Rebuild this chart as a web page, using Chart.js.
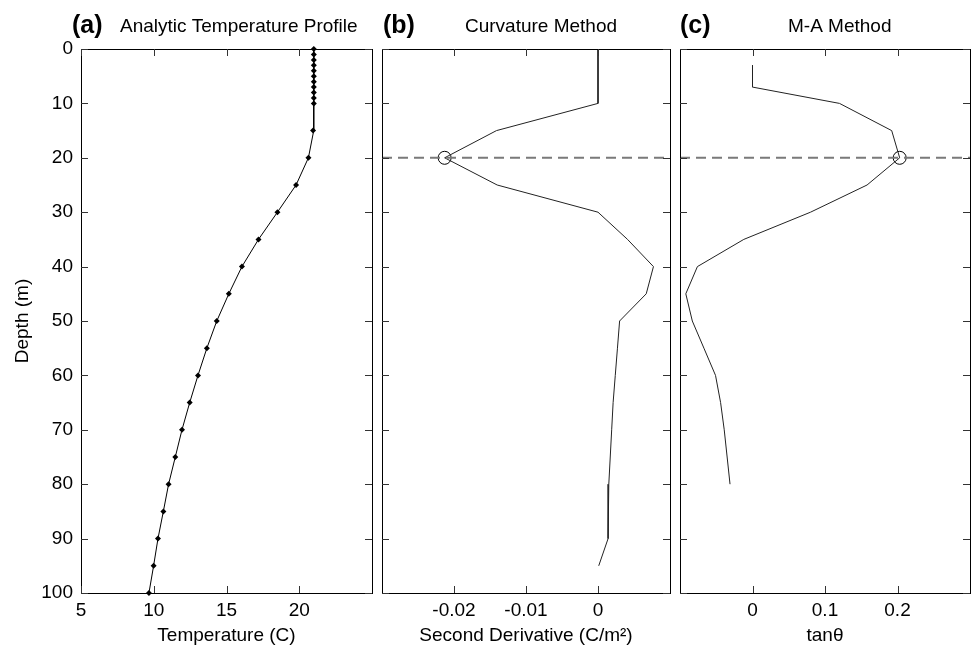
<!DOCTYPE html>
<html>
<head>
<meta charset="utf-8">
<script src="https://cdn.jsdelivr.net/npm/chart.js@4"></script>
<style>
  body { margin: 0; background: #fff; overflow: hidden; }
  #js--wrap { position: relative; width: 971px; height: 651px; }
  #js--wrap canvas { position: absolute; left: 0; top: 0; }
</style>
</head>
<body>
<div id="js--wrap">
  <canvas id="js--chart-a" width="971" height="651"></canvas>
  <canvas id="js--chart-b" width="971" height="651"></canvas>
  <canvas id="js--chart-c" width="971" height="651"></canvas>
</div>
<script>
// depth axis shared by all three panels
const depthTicks = [0, 10, 20, 30, 40, 50, 60, 70, 80, 90, 100];
const mixedLayerDepth = 20;

// (a) temperature profile
const profileDepths = [0, 1, 2, 3, 4, 5, 6, 7, 8, 9, 10, 15, 20, 25, 30, 35, 40, 45, 50,
    55, 60, 65, 70, 75, 80, 85, 90, 95, 100];
const profileTemps = [21, 21, 21, 21, 21, 21, 21, 21, 21, 21, 21, 20.95, 20.63, 19.78, 18.5,
    17.2, 16.06, 15.16, 14.33, 13.65, 13.04, 12.47, 11.94, 11.48, 11.02, 10.66, 10.29, 9.99, 9.67];
const tempTicks = [5, 10, 15, 20];

// (b) second derivative
const curvDepths = [0, 5, 10, 15, 20, 25, 30, 35, 40, 45, 50, 55, 60, 65, 70, 75, 80, 85, 90, 95];
const curvValues = [0, 0, 0, -0.0141, -0.0213, -0.014, 0, 0.0041, 0.0077, 0.0067, 0.003,
    0.0027, 0.0024, 0.0021, 0.0019, 0.0017, 0.0015, 0.0014, 0.0014, 0.0001];
const curvTicks = [-0.02, -0.01, 0];

// (c) M-A method
const maDepths = [3, 7, 10, 15, 20, 25, 30, 35, 40, 45, 50, 55, 60, 65, 70, 75, 80];
const maValues = [0, 0, 0.12, 0.192, 0.203, 0.158, 0.08, -0.012, -0.076, -0.092, -0.083,
    -0.067, -0.051, -0.044, -0.039, -0.035, -0.031];
const maTicks = [0, 0.1, 0.2];

const fontFamily = '"Liberation Sans", Arial, Helvetica, sans-serif';
Chart.defaults.font.family = fontFamily;
Chart.defaults.font.size = 19;
Chart.defaults.color = "#000";

const toPoints = function(xs, ys) {
    return ys.map(function(y, i) {
        return { x: xs[i], y: y };
    });
};

// box round the plot area with MATLAB style inward ticks
const framePlugin = {
    id: "frame",
    afterDatasetsDraw(chart) {
        const ctx = chart.ctx;
        const a = chart.chartArea;
        const xs = chart.scales.x;
        const ys = chart.scales.y;
        ctx.save();
        ctx.strokeStyle = "#000";
        ctx.lineWidth = 1;
        ctx.strokeRect(a.left + 0.5, a.top + 0.5, a.right - a.left, a.bottom - a.top);
        ctx.strokeStyle = "#333";
        ctx.beginPath();
        xs.ticks.forEach(function(t) {
            const px = Math.round(xs.getPixelForValue(t.value)) + 0.5;
            ctx.moveTo(px, a.top);
            ctx.lineTo(px, a.top + 7);
            ctx.moveTo(px, a.bottom);
            ctx.lineTo(px, a.bottom - 7);
        });
        ys.ticks.forEach(function(t) {
            const py = Math.round(ys.getPixelForValue(t.value)) + 0.5;
            ctx.moveTo(a.left, py);
            ctx.lineTo(a.left + 7, py);
            ctx.moveTo(a.right, py);
            ctx.lineTo(a.right - 7, py);
        });
        ctx.stroke();
        ctx.restore();
    }
};

const titlePlugin = {
    id: "panelTitle",
    afterDraw(chart, args, opts) {
        const ctx = chart.ctx;
        ctx.save();
        ctx.fillStyle = "#000";
        ctx.textAlign = "left";
        ctx.textBaseline = "alphabetic";
        ctx.font = "bold 25px " + fontFamily;
        ctx.fillText(opts.tag, opts.tagX, 33);
        ctx.font = "19px " + fontFamily;
        ctx.fillText(opts.text, opts.textX, 32);
        ctx.restore();
    }
};

const depthAxis = function(showLabels) {
    const axis = {
        type: "linear",
        reverse: true,
        min: 0,
        max: 100,
        display: showLabels,
        afterBuildTicks: function(scale) {
            scale.ticks = depthTicks.map(function(v) { return { value: v }; });
        },
        grid: { display: false, drawTicks: false },
        border: { display: false },
        ticks: { padding: 8 },
        title: {
            display: true,
            text: "Depth (m)",
            padding: { top: 11, bottom: 0 }
        }
    };
    if (showLabels) {
        axis.afterFit = function(scale) {
            scale.width = 81;
        };
    }
    return axis;
};

const valueAxis = function(min, max, tickValues, label) {
    return {
        type: "linear",
        min: min,
        max: max,
        afterBuildTicks: function(scale) {
            scale.ticks = tickValues.map(function(v) { return { value: v }; });
        },
        afterFit: function(scale) {
            scale.height = 58;
            scale.paddingLeft = 0;
            scale.paddingRight = 0;
        },
        grid: { display: false, drawTicks: false },
        border: { display: false },
        ticks: {
            padding: 6,
            maxRotation: 0,
            callback: function(v) { return String(v); }
        },
        title: {
            display: true,
            text: label,
            padding: { top: 0, bottom: 4 }
        }
    };
};

const makePanel = function(id, datasets, xAxis, yAxis, padding, title) {
    return new Chart(document.getElementById(id), {
        type: "scatter",
        data: { datasets: datasets },
        options: {
            responsive: false,
            animation: false,
            devicePixelRatio: 1,
            // fixed plot boxes, markers may spill over the frame
            layout: { padding: padding, autoPadding: false },
            scales: { x: xAxis, y: yAxis },
            plugins: {
                legend: { display: false },
                tooltip: { enabled: false },
                panelTitle: title
            }
        },
        plugins: [framePlugin, titlePlugin]
    });
};

const dashLine = function(min, max) {
    return {
        data: [{ x: min, y: mixedLayerDepth }, { x: max, y: mixedLayerDepth }],
        showLine: true,
        borderColor: "#7a7a7a",
        borderWidth: 2,
        borderDash: [10, 6],
        pointRadius: 0
    };
};

const pickCircle = function(depths, values) {
    const i = depths.indexOf(mixedLayerDepth);
    return {
        data: [{ x: values[i], y: depths[i] }],
        pointStyle: "circle",
        pointRadius: 6.5,
        pointBorderColor: "#000",
        pointBackgroundColor: "rgba(0,0,0,0)",
        pointBorderWidth: 1,
        clip: false
    };
};

makePanel("js--chart-a", [{
    data: toPoints(profileTemps, profileDepths),
    showLine: true,
    borderColor: "#000",
    borderWidth: 1,
    pointStyle: "rectRot",
    pointRadius: 3,
    pointBackgroundColor: "#000",
    pointBorderWidth: 0,
    clip: false
}], valueAxis(5, 25, tempTicks, "Temperature (C)"), depthAxis(true),
    { left: 0, top: 49, right: 599, bottom: 0 },
    { tag: "(a)", tagX: 72, text: "Analytic Temperature Profile", textX: 120 });

makePanel("js--chart-b", [
    dashLine(-0.03, 0.01),
    {
        data: toPoints(curvValues, curvDepths),
        showLine: true,
        borderColor: "#222",
        borderWidth: 1,
        pointRadius: 0
    },
    pickCircle(curvDepths, curvValues)
], valueAxis(-0.03, 0.01, curvTicks, "Second Derivative (C/m²)"), depthAxis(false),
    { left: 382, top: 49, right: 301, bottom: 0 },
    { tag: "(b)", tagX: 383, text: "Curvature Method", textX: 465 });

makePanel("js--chart-c", [
    dashLine(-0.1, 0.3),
    {
        data: toPoints(maValues, maDepths),
        showLine: true,
        borderColor: "#222",
        borderWidth: 1,
        pointRadius: 0
    },
    pickCircle(maDepths, maValues)
], valueAxis(-0.1, 0.3, maTicks, "tanθ"), depthAxis(false),
    { left: 680, top: 49, right: 1, bottom: 0 },
    { tag: "(c)", tagX: 680, text: "M-A Method", textX: 788 });
</script>
</body>
</html>
